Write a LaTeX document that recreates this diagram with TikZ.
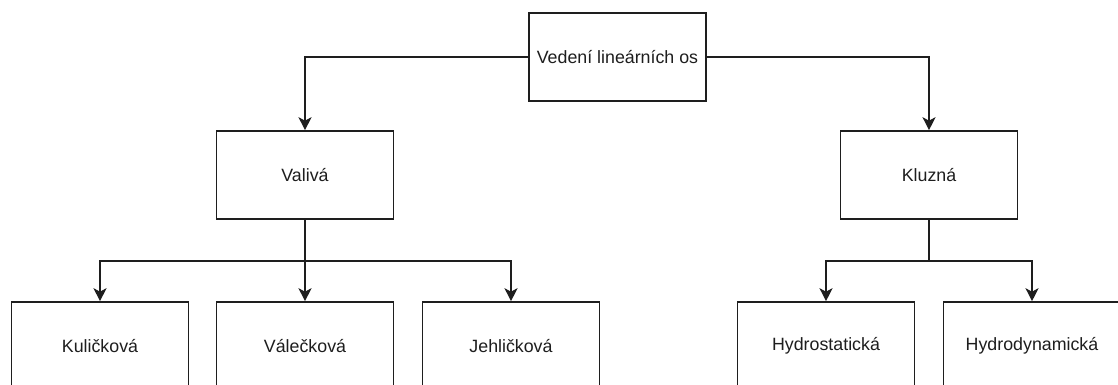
\documentclass[tikz,border=0pt]{standalone}
\usepackage{fontspec}
\setmainfont{Liberation Sans}
\usetikzlibrary{arrows.meta}
\definecolor{ink}{RGB}{30,30,30}
\begin{document}
\begin{tikzpicture}[x=1pt,y=-1pt,
  box/.style={draw=ink,line width=1.6pt,fill=white,minimum width=177pt,minimum height=88pt,inner sep=0pt,
    font=\fontsize{17.8pt}{20pt}\selectfont,text=ink},
  conn/.style={draw=ink,line width=1.6pt,-{Stealth[length=13pt,width=13pt,inset=3.5pt]}},
  plain/.style={draw=ink,line width=1.6pt}]
\useasboundingbox (0,0) rectangle (1118,385);
\clip (0,0) rectangle (1118,385);
\node[box] (root) at (617.5,57) {Vedení lineárních os};
\node[box] (val) at (305,175) {Valivá};
\node[box] (klu) at (929,175) {Kluzná};
\node[box] (kul) at (100,346) {Kuličková};
\node[box] (vale) at (305,346) {Válečková};
\node[box] (jeh) at (511,346) {Jehličková};
\node[box] (hs) at (826,346) {Hydrostatická};
\node[box] (hd) at (1032,346) {Hydrodynamická};
\coordinate (vj) at (305,261);
\coordinate (kj) at (929,261);
\draw[conn] (root.west) -| (val.north);
\draw[conn] (root.east) -| (klu.north);
\draw[plain] (val.south) -- (vj);
\draw[conn] (vj) -| (kul.north);
\draw[conn] (vj) -- (vale.north);
\draw[conn] (vj) -| (jeh.north);
\draw[plain] (klu.south) -- (kj);
\draw[conn] (kj) -| (hs.north);
\draw[conn] (kj) -| (hd.north);
\end{tikzpicture}
\end{document}
